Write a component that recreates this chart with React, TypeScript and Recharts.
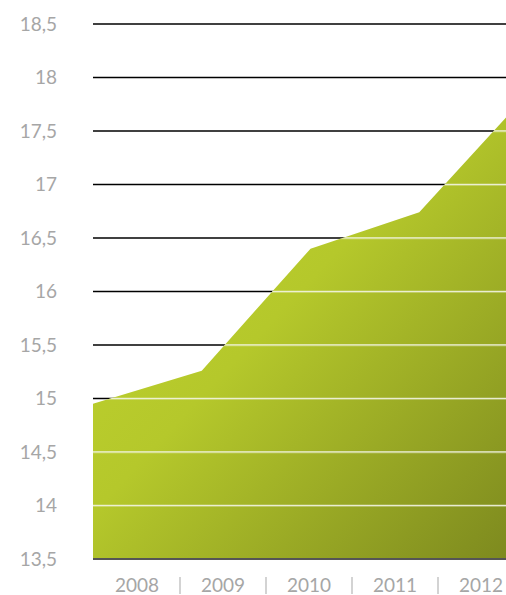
import React from 'react';
import { AreaChart, Area, XAxis, YAxis, CartesianGrid } from 'recharts';

const years = ['2008', '2009', '2010', '2011', '2012'];
const values = [14.95, 15.26, 16.4, 16.74, 17.85];
const yTicks = [13.5, 14, 14.5, 15, 15.5, 16, 16.5, 17, 17.5, 18, 18.5];

const data = years.map((year, i) => ({ year, value: values[i] }));

const FONT = 'Lato, "Open Sans", sans-serif';

// plot box: top 24, 535px tall, 10 grid steps
const PLOT_TOP = 24;
const STEP = 53.5;

const formatTick = (v: number) => String(v).replace('.', ',');

const YearTick = (props: any) => {
  const { x, y, payload, index } = props;
  const half = payload && payload.offset ? payload.offset : 43;
  return (
    <g>
      <text x={x} y={y + 33} textAnchor="middle" fill="#a6a6a6" fontSize={19} fontFamily={FONT}>
        {payload.value}
      </text>
      {index < years.length - 1 && (
        <line x1={x + half} x2={x + half} y1={y + 18} y2={y + 35} stroke="#c4c4c4" strokeWidth={1.5} />
      )}
    </g>
  );
};

export default function App() {
  return (
    <div style={{ position: 'absolute', left: 0, top: 0, width: 506, height: 595, overflow: 'hidden', background: '#fff' }}>
      <AreaChart width={528} height={595} data={data} margin={{ top: PLOT_TOP, right: 0, bottom: 0, left: 0 }}>
        <defs>
          <linearGradient id="greenFill" x1="0" y1="0" x2="1" y2="1">
            <stop offset="0%" stopColor="#c3d72f" />
            <stop offset="45%" stopColor="#b5c82b" />
            <stop offset="100%" stopColor="#7b871e" />
          </linearGradient>
          {/* white grid lines, seen only inside the area */}
          <pattern id="whiteLines" patternUnits="userSpaceOnUse" x={0} y={PLOT_TOP - 0.7} width={600} height={STEP}>
            <rect x={0} y={0} width={600} height={1.4} fill="#f4f6e8" />
          </pattern>
        </defs>
        <CartesianGrid xAxisId="pts" vertical={false} stroke="#000" strokeWidth={1.4} />
        <XAxis xAxisId="pts" dataKey="year" hide />
        <XAxis
          xAxisId="band"
          dataKey="year"
          scale="band"
          padding={{ left: 1, right: 4 }}
          height={36}
          tickLine={false}
          tickSize={0}
          tickMargin={0}
          axisLine={{ stroke: '#555', strokeWidth: 2 }}
          tick={<YearTick />}
          interval={0}
        />
        <YAxis
          domain={[13.5, 18.5]}
          ticks={yTicks}
          width={93}
          axisLine={false}
          tickLine={false}
          tickSize={0}
          tickMargin={36}
          tickFormatter={formatTick}
          tick={{ fill: '#a6a6a6', fontSize: 19, fontFamily: FONT }}
          interval={0}
        />
        <Area
          xAxisId="pts"
          type="linear"
          dataKey="value"
          baseValue={13.5}
          stroke="none"
          fill="url(#greenFill)"
          fillOpacity={1}
          isAnimationActive={false}
          dot={false}
          activeDot={false}
        />
        <Area
          xAxisId="pts"
          type="linear"
          dataKey="value"
          baseValue={13.5}
          stroke="none"
          fill="url(#whiteLines)"
          fillOpacity={1}
          isAnimationActive={false}
          dot={false}
          activeDot={false}
        />
      </AreaChart>
    </div>
  );
}
